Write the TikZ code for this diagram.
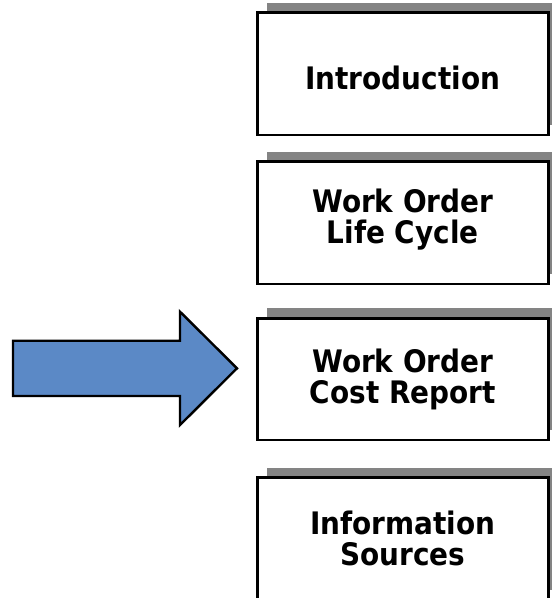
\documentclass[tikz,border=0pt]{standalone}
\usepackage{fontspec}
\setmainfont{DejaVu Sans Condensed}
\begin{document}
\begin{tikzpicture}[x=1pt,y=-1pt,
  topicbox/.style={draw=black, line width=2.8pt, fill=white},
  topicshadow/.style={fill=shadowgray},
  topictext/.style={font=\bfseries\fontsize{31}{30.6}\selectfont, align=center, text=black, anchor=base, inner sep=0pt},
]
\definecolor{shadowgray}{RGB}{132,132,132}
\definecolor{arrowblue}{RGB}{91,137,198}
\useasboundingbox (0,0) rectangle (552,598);
\begin{scope}
\clip (0,0) rectangle (552,598);
% shadows and boxes: top, bottom
\foreach \t/\b in {12.7/135, 161.7/284, 318.3/440, 477.7/600}{
  \fill[topicshadow] (267,\t-10) rectangle (558,\b-10);
  \draw[topicbox] (257.3,\t) rectangle (548.3,\b);
}
\end{scope}
% labels, placed by the baseline of their last line
\node[topictext] (intro) at (402.8,89.3) {Introduction};
\node[topictext] (life) at (402.8,243.3) {Work Order\\Life Cycle};
\node[topictext] (cost) at (402.8,403.3) {Work Order\\Cost Report};
\node[topictext] (info) at (402.8,565) {Information\\Sources};
% block arrow pointing at the current topic
\draw[fill=arrowblue, line width=2.4pt, line join=miter]
  (13,340.7) -- (180,340.7) -- (180,311.7) -- (237,368.3)
  -- (180,425) -- (180,396) -- (13,396) -- cycle;
\end{tikzpicture}
\end{document}
